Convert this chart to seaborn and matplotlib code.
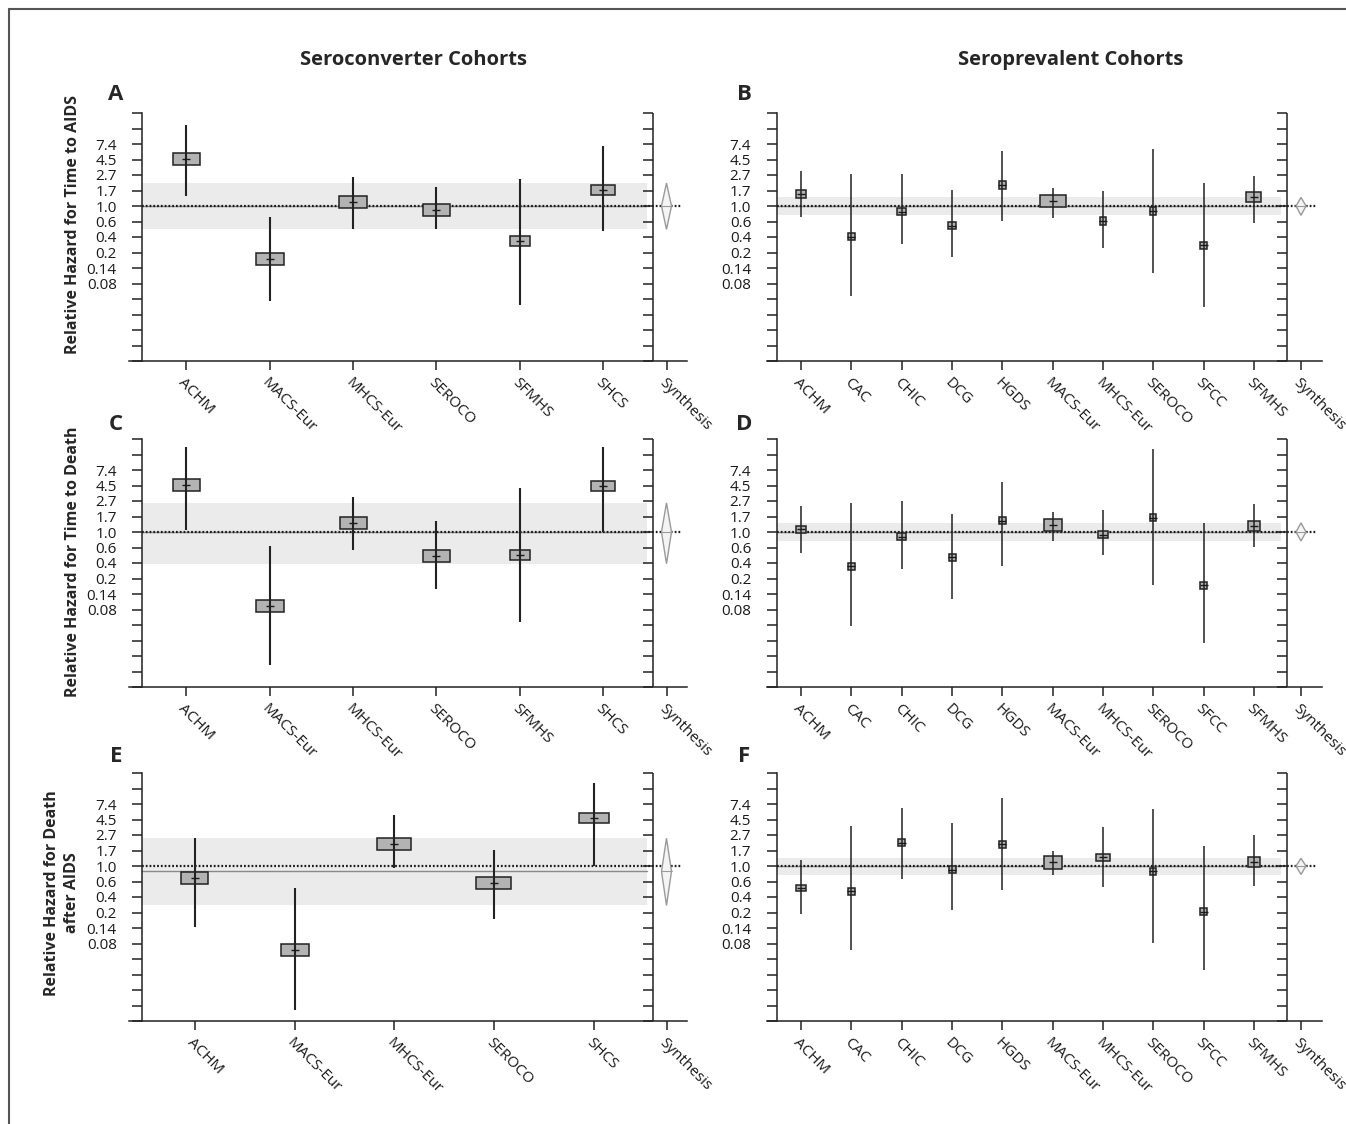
#!/usr/bin/env python3
import numpy as np
import pandas as pd
import matplotlib
matplotlib.use("Agg")
import matplotlib.pyplot as plt
import matplotlib.transforms as mtransforms
from matplotlib.patches import Rectangle, Polygon
from matplotlib.lines import Line2D
from matplotlib.ticker import FixedLocator, NullLocator
import seaborn as sns

sns.set_theme(style="ticks")
plt.rcParams["font.family"] = ["Open Sans", "DejaVu Sans"]

# cohorts
sc6 = ["ACHM", "MACS-Eur", "MHCS-Eur", "SEROCO", "SFMHS", "SHCS"]
sc5 = ["ACHM", "MACS-Eur", "MHCS-Eur", "SEROCO", "SHCS"]
sp10 = ["ACHM", "CAC", "CHIC", "DCG", "HGDS", "MACS-Eur", "MHCS-Eur", "SEROCO", "SFCC", "SFMHS"]

# y axis: ticks every 0.5 on ln(RH) from -5 to 3
ytick_ln = np.arange(-5, 3.01, 0.5)
ytick_labels = ["", "", "", "", "", "0.08", "0.14", "0.2", "0.4", "0.6",
                "1.0", "1.7", "2.7", "4.5", "7.4", "", ""]

# relative hazard, lower / upper bound, box size (px)
rh_a = [4.5, 0.18, 1.12, 0.88, 0.32, 1.68]
lo_a = [1.36, 0.046, 0.47, 0.47, 0.041, 0.45]
hi_a = [13.7, 0.70, 2.58, 1.85, 2.37, 7.0]
bw_a = [27, 28, 28, 27, 20, 24]
bh_a = [12, 12, 12, 12, 10, 10]
syn_a = (1.0, 0.47, 2.1)

rh_b = [1.48, 0.37, 0.83, 0.53, 1.95, 1.17, 0.62, 0.85, 0.28, 1.32]
lo_b = [0.70, 0.055, 0.29, 0.19, 0.61, 0.67, 0.26, 0.114, 0.038, 0.58]
hi_b = [3.09, 2.78, 2.78, 1.68, 5.97, 1.81, 1.63, 6.3, 2.13, 2.63]
bw_b = [10, 7, 9, 7.5, 7, 26, 6.5, 6.5, 7, 15]
bh_b = [8, 7, 7, 7, 8, 12.5, 8, 8, 7, 10]
syn_b = (1.0, 0.74, 1.32)

rh_c = [4.54, 0.092, 1.32, 0.46, 0.48, 4.4]
lo_c = [1.07, 0.0137, 0.56, 0.16, 0.055, 1.0]
hi_c = [15.7, 0.635, 3.11, 1.43, 4.12, 15.7]
bw_c = [27, 28, 27, 27, 20, 24]
bh_c = [12, 12, 12, 12, 9.5, 10]
syn_c = (1.0, 0.36, 2.56)

rh_d = [1.09, 0.33, 0.86, 0.44, 1.43, 1.27, 0.91, 1.58, 0.18, 1.21]
lo_d = [0.51, 0.048, 0.30, 0.116, 0.33, 0.76, 0.47, 0.18, 0.028, 0.62]
hi_d = [2.3, 2.56, 2.73, 1.81, 4.95, 1.91, 2.02, 14.6, 1.32, 2.45]
bw_d = [9.5, 7.5, 8.5, 7, 7, 18, 10, 6.5, 6.5, 11.5]
bh_d = [7, 7, 7, 7, 7, 12, 7, 7, 7, 10]
syn_d = (1.0, 0.75, 1.34)

rh_e = [0.67, 0.067, 2.04, 0.57, 4.63]
lo_e = [0.14, 0.0097, 0.94, 0.18, 1.01]
hi_e = [2.5, 0.49, 5.1, 1.70, 14.4]
bw_e = [27, 28, 34, 35, 30]
bh_e = [12, 12, 12, 12, 10]
syn_e = (0.84, 0.28, 2.45)

rh_f = [0.49, 0.44, 2.1, 0.88, 2.02, 1.12, 1.32, 0.84, 0.23, 1.15]
lo_f = [0.21, 0.067, 0.65, 0.24, 0.46, 0.75, 0.51, 0.083, 0.035, 0.52]
hi_f = [1.21, 3.62, 6.6, 3.98, 9.1, 1.61, 3.47, 6.2, 1.89, 2.69]
bw_f = [10.5, 7, 7, 7, 7, 18, 13.5, 6.5, 7, 11.5]
bh_f = [6.5, 7, 7, 7, 7, 12.5, 7, 7, 7, 10]
syn_f = (1.0, 0.76, 1.28)

ylabels = ["Relative Hazard for Time to AIDS",
           "Relative Hazard for Time to Death",
           "Relative Hazard for Death\nafter AIDS"]
col_titles = ["Seroconverter Cohorts", "Seroprevalent Cohorts"]

# layout in figure pixels
W, H = 1346, 1124
COLS = {
    "left": dict(lend=129, spine=142, sep=652.5, syn=666.5, rend=687, a=0.53, b=0.59, lx=116, ci_lw=1.5),
    "right": dict(lend=766.5, spine=776.5, sep=1287, syn=1301, rend=1321.5, a=0.49, b=0.66, lx=744, ci_lw=1.1),
}
ROWS = [(113, 361), (439, 687), (773, 1021)]
LETTER_Y = [94, 425, 757]
INK = "#222222"


def draw_panel(fig, letter, names, rh, lo, hi, bw, bh, syn, col, row):
    g = COLS[col]
    n = len(names)
    s = (g["sep"] - g["spine"]) / (n - 1 + g["a"] + g["b"])
    first = g["spine"] + g["a"] * s

    def to_x(px):
        return (px - first) / s

    top, bot = ROWS[row]
    ax = fig.add_axes([g["lend"] / W, 1 - bot / H, (g["rend"] - g["lend"]) / W, (bot - top) / H])

    df = pd.DataFrame({"pos": np.arange(n), "cohort": names, "rh": rh, "lo": lo, "hi": hi})

    # centre marks
    sns.scatterplot(data=df, x="pos", y="rh", marker="_", s=26, color="k",
                    linewidth=1.0, ax=ax, zorder=7, legend=False)
    ax.set_xlabel("")
    ax.set_ylabel("")

    ax.set_yscale("log", base=np.e)
    ax.set_ylim(np.exp(-5), np.exp(3))
    ax.set_xlim(to_x(g["lend"]), to_x(g["rend"]))

    spine_x = -g["a"]
    sep_x = n - 1 + g["b"]
    syn_x = to_x(g["syn"])
    band_end = to_x(g["sep"] - 6)

    est, slo, shi = syn
    ax.fill_between([spine_x, band_end], slo, shi, color="#ebebeb", lw=0, zorder=0)
    ax.plot([spine_x, band_end], [est, est], color="#8a8a8a", lw=1.0, zorder=1)
    ax.plot([spine_x, to_x(g["rend"] - 6)], [1, 1], color="k", lw=1.6,
            ls=(0, (0.8, 0.9)), zorder=2)

    # cohort CI lines and boxes
    ax.vlines(df["pos"], df["lo"], df["hi"], color=INK, lw=g["ci_lw"], zorder=6)
    for x, y, w, h in zip(df["pos"], df["rh"], bw, bh):
        trans = fig.dpi_scale_trans + mtransforms.ScaledTranslation(x, y, ax.transData)
        ax.add_patch(Rectangle((-w / 200, -h / 200), w / 100, h / 100, transform=trans,
                               facecolor="#b3b3b3", edgecolor=INK, lw=1.1, zorder=5))

    # synthesis diamond
    hw = 5 / s
    ax.add_patch(Polygon([(syn_x - hw, est), (syn_x, shi), (syn_x + hw, est), (syn_x, slo)],
                         closed=True, facecolor="#f4f4f4", edgecolor="#9a9a9a", lw=1.0, zorder=4))
    ax.plot([syn_x - hw, syn_x + hw], [est, est], color="#9a9a9a", lw=0.8, zorder=4)

    # separator with inward ticks
    yt = np.exp(ytick_ln)
    ax.axvline(sep_x, color=INK, lw=1.1, zorder=3)
    ax.plot(np.full(len(yt), sep_x), yt, ls="none", marker=0, ms=7.2, mew=1.1,
            color=INK, clip_on=False, zorder=3)

    # axes styling
    sns.despine(ax=ax, top=True, right=True)
    ax.spines["left"].set_position(("data", spine_x))
    for sp in ["left", "bottom"]:
        ax.spines[sp].set_color(INK)
        ax.spines[sp].set_linewidth(1.1)
    ax.yaxis.set_major_locator(FixedLocator(yt))
    ax.yaxis.set_minor_locator(NullLocator())
    ax.set_yticklabels(ytick_labels)
    ax.set_xticks(list(range(n)) + [syn_x])
    ax.set_xticklabels(names + ["Synthesis"], rotation=-45, ha="left", rotation_mode="anchor")
    ax.tick_params(axis="y", direction="out", length=7.2, width=1.1, pad=11,
                   labelsize=11, color=INK, labelcolor="k")
    ax.tick_params(axis="x", direction="out", length=6.5, width=1.1, pad=4,
                   labelsize=11, color=INK, labelcolor="k")
    ax.set_facecolor("none")

    fig.text(g["lx"] / W, 1 - LETTER_Y[row] / H, letter, ha="center", va="center",
             fontsize=16, fontweight="bold")
    return ax


def main():
    fig = plt.figure(figsize=(W / 100, H / 100), dpi=100)

    draw_panel(fig, "A", sc6, rh_a, lo_a, hi_a, bw_a, bh_a, syn_a, "left", 0)
    draw_panel(fig, "B", sp10, rh_b, lo_b, hi_b, bw_b, bh_b, syn_b, "right", 0)
    draw_panel(fig, "C", sc6, rh_c, lo_c, hi_c, bw_c, bh_c, syn_c, "left", 1)
    draw_panel(fig, "D", sp10, rh_d, lo_d, hi_d, bw_d, bh_d, syn_d, "right", 1)
    draw_panel(fig, "E", sc5, rh_e, lo_e, hi_e, bw_e, bh_e, syn_e, "left", 2)
    draw_panel(fig, "F", sp10, rh_f, lo_f, hi_f, bw_f, bh_f, syn_f, "right", 2)

    fig.text(414 / W, 1 - 60 / H, col_titles[0], ha="center", va="center",
             fontsize=14.5, fontweight="bold")
    fig.text(1071 / W, 1 - 60 / H, col_titles[1], ha="center", va="center",
             fontsize=14.5, fontweight="bold")

    for (x, y), lab in zip([(73, 224), (73, 562), (62, 893)], ylabels):
        fig.text(x / W, 1 - y / H, lab, rotation=90, ha="center", va="center",
                 multialignment="center", fontsize=11.5, fontweight="bold", linespacing=1.3)

    # frame lines on top and left
    fig.add_artist(Line2D([9 / W, 1], [1 - 9 / H, 1 - 9 / H], transform=fig.transFigure,
                          color="#555555", lw=1.5))
    fig.add_artist(Line2D([9 / W, 9 / W], [0, 1 - 9 / H], transform=fig.transFigure,
                          color="#555555", lw=1.5))

    fig.savefig("out.png", dpi=100, facecolor="white")
    print("[saved] out.png")
    plt.close(fig)


if __name__ == "__main__":
    main()
